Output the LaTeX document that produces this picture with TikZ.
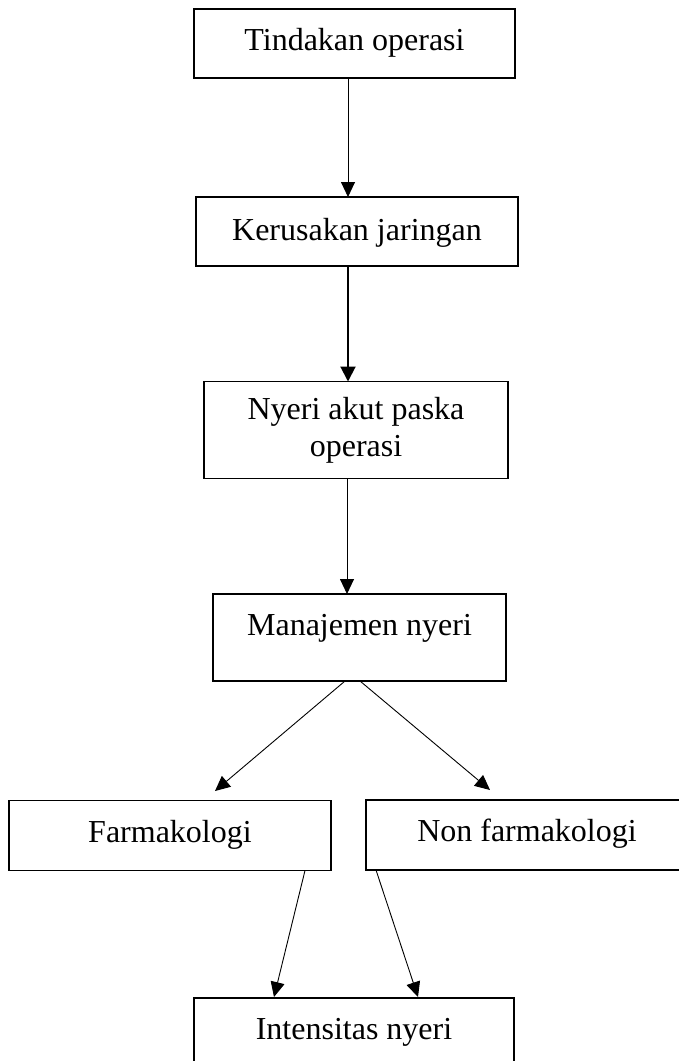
\documentclass[tikz,border=0pt]{standalone}
\usepackage{fontspec}
\setmainfont{Liberation Serif}
\usetikzlibrary{arrows.meta}
\begin{document}
\begin{tikzpicture}[x=1pt,y=-1pt,
  box/.style={draw=black, line width=1.1pt, inner sep=0pt, outer sep=0pt,
    font=\fontsize{32}{37}\selectfont, text height=22pt, text depth=8pt,
    minimum height=69pt, align=center},
  conn/.style={line width=0.9pt, -{Triangle[length=15pt,width=14pt]}},
  thickconn/.style={line width=2pt, -{Triangle[length=15pt,width=15pt]}}]
\useasboundingbox (0,0) rectangle (679,1061);

\node[box, minimum width=321pt] (b1) at (354.5,43.5) {Tindakan operasi};
\node[box, minimum width=322pt, text depth=5pt] (b2) at (357,231.5) {Kerusakan jaringan};
\node[box, minimum width=304pt, minimum height=97pt, text height=, text depth=] (b3) at (356,430) {Nyeri akut paska\\operasi};
\node[box, minimum width=293pt, minimum height=87pt, text depth=27pt] (b4) at (359.5,637.5) {Manajemen nyeri};
\node[box, minimum width=322pt, minimum height=70pt, text depth=9pt] (b5) at (170,835.5) {Farmakologi};
\node[box, minimum width=322pt, minimum height=70pt, text depth=10pt] (b6) at (527,835) {Non farmakologi};
\node[box, minimum width=320pt, text depth=8pt] (b7) at (354,1032.5) {Intensitas nyeri};

\coordinate (e45) at (215,791);
\coordinate (e46) at (490,790);
\coordinate (e57) at (274,997);
\coordinate (e67) at (418,997);

\draw[conn] (b1.south -| 348,0) -- (b2.north -| 348,0);
\draw[thickconn] (b2.south -| 348,0) -- (b3.north -| 348,0);
\draw[conn] (b3.south -| 347,0) -- (b4.north -| 347,0);
\draw[conn] (b4.south -| 345,0) -- (e45);
\draw[conn] (b4.south -| 360,0) -- (e46);
\draw[conn] (b5.south -| 305,0) -- (e57);
\draw[conn] (b6.south -| 376,0) -- (e67);
\end{tikzpicture}
\end{document}
